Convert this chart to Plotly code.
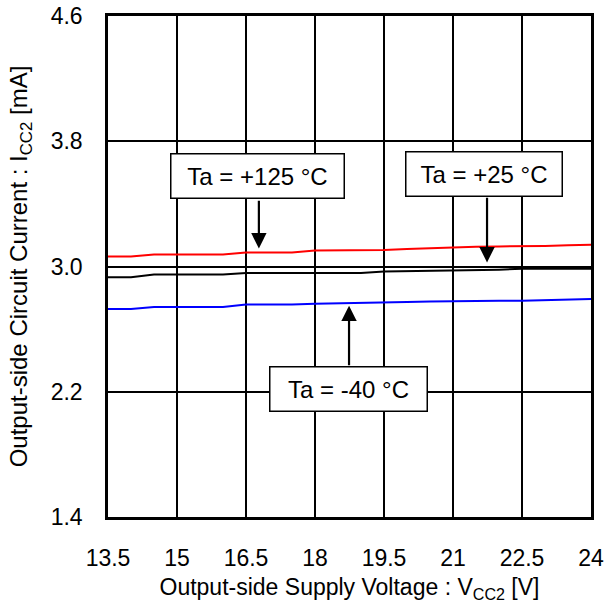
import plotly.graph_objects as go

vcc2 = [13.5, 14.0, 14.5, 15.0, 15.5, 16.0, 16.5, 17.0, 17.5, 18.0, 18.5,
        19.0, 19.5, 20.0, 20.5, 21.0, 21.5, 22.0, 22.5, 23.0, 23.5, 24.0]
icc2_125 = [3.064, 3.064, 3.077, 3.077, 3.077, 3.077, 3.090, 3.090, 3.090, 3.102, 3.102,
            3.102, 3.106, 3.111, 3.116, 3.124, 3.126, 3.128, 3.128, 3.131, 3.135, 3.139]
icc2_25 = [2.932, 2.932, 2.949, 2.949, 2.949, 2.949, 2.959, 2.959, 2.959, 2.959, 2.959,
           2.959, 2.968, 2.970, 2.972, 2.974, 2.977, 2.980, 2.985, 2.985, 2.985, 2.985]
icc2_m40 = [2.729, 2.729, 2.742, 2.742, 2.742, 2.742, 2.757, 2.757, 2.757, 2.762, 2.766,
            2.770, 2.772, 2.774, 2.777, 2.780, 2.781, 2.782, 2.782, 2.785, 2.789, 2.793]

x_ticks = [13.5, 15, 16.5, 18, 19.5, 21, 22.5, 24]
x_tick_text = ["13.5", "15", "16.5", "18", "19.5", "21", "22.5", "24"]
y_ticks = [1.4, 2.2, 3.0, 3.8, 4.6]
y_tick_text = ["1.4", "2.2", "3.0", "3.8", "4.6"]

FONT = "Liberation Sans, Arial, sans-serif"

fig = go.Figure()
fig.add_trace(go.Scatter(x=vcc2, y=icc2_125, mode="lines", line=dict(color="#FF0000", width=2), showlegend=False))
fig.add_trace(go.Scatter(x=vcc2, y=icc2_25, mode="lines", line=dict(color="#000000", width=2), showlegend=False))
fig.add_trace(go.Scatter(x=vcc2, y=icc2_m40, mode="lines", line=dict(color="#0000FF", width=2), showlegend=False))

labels = [
    # text, box center x, box center y, box width, arrow x, arrow tail y, arrow tip y
    ("Ta = +125 °C", 16.75, 3.576, 172, 16.78, 3.429, 3.115),
    ("Ta = +25 °C", 21.68, 3.589, 155, 21.74, 3.448, 3.026),
    ("Ta = -40 °C", 18.73, 2.219, 156, 18.74, 2.36, 2.750),
]
annotations = []
for text, bx, by, bw, axx, tail, tip in labels:
    annotations.append(dict(
        x=axx, y=tip, ax=axx, ay=tail, xref="x", yref="y", axref="x", ayref="y",
        text="", showarrow=True, arrowhead=2, arrowsize=1.4, arrowwidth=2.2,
        arrowcolor="black", standoff=0, startstandoff=0))
    annotations.append(dict(
        x=bx, y=by, xref="x", yref="y", text=text, showarrow=False,
        font=dict(family=FONT, size=24, color="black"),
        bgcolor="white", bordercolor="black", borderwidth=1.5, borderpad=0,
        width=bw, height=43))

fig.update_layout(
    width=606, height=610,
    margin=dict(l=108, r=15, t=16, b=93),
    paper_bgcolor="white", plot_bgcolor="white",
    font=dict(family=FONT, size=23, color="black"),
    annotations=annotations,
)
fig.update_xaxes(
    range=[13.5, 24], tickvals=x_ticks, ticktext=x_tick_text,
    showgrid=True, gridcolor="black", gridwidth=2,
    showline=True, linecolor="black", linewidth=2.5, mirror=True,
    zeroline=False, ticks="", ticklabelstandoff=19, automargin=False,
    ticklabeloverflow="allow",
    tickfont=dict(family=FONT, size=23),
    title=dict(text="Output-side Supply Voltage : V<sub>CC2</sub> [V]",
               font=dict(family=FONT, size=23), standoff=9),
)
fig.update_yaxes(
    range=[1.4, 4.6], tickvals=y_ticks, ticktext=y_tick_text,
    showgrid=True, gridcolor="black", gridwidth=2,
    showline=True, linecolor="black", linewidth=2.5, mirror=True,
    zeroline=False, ticks="", ticklabelstandoff=18, automargin=False,
    ticklabeloverflow="allow",
    tickfont=dict(family=FONT, size=23),
    title=dict(text="Output-side Circuit Current : I<sub>CC2</sub> [mA]",
               font=dict(family=FONT, size=24), standoff=17),
)

fig.write_html("out.html", config={"displayModeBar": False},
               post_script="document.body.style.margin='0px';")
